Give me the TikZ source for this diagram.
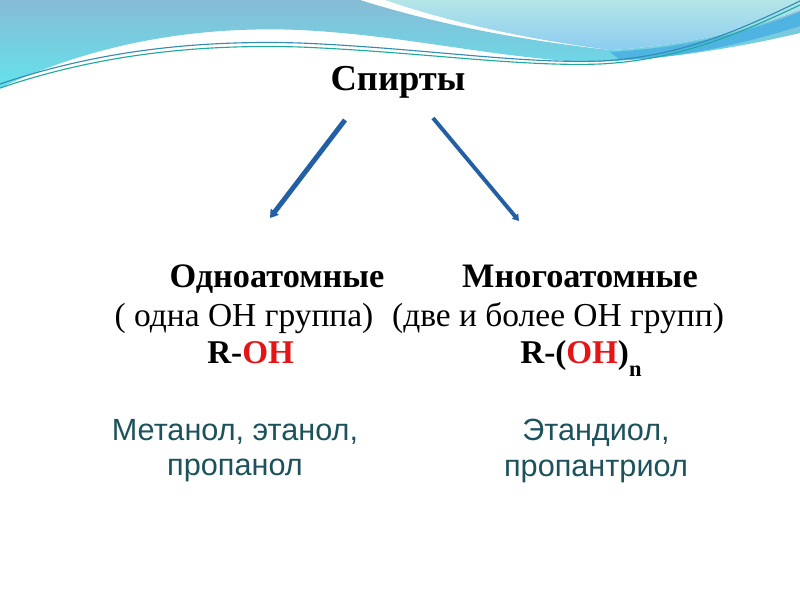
\documentclass[tikz,border=0pt]{standalone}
\usepackage{fontspec}
\setmainfont{Liberation Serif}
\newfontfamily\examplefont{Liberation Sans}
\usetikzlibrary{arrows.meta,positioning}
\definecolor{arrowblue}{RGB}{35,95,165}
\definecolor{ohred}{RGB}{230,20,20}
\definecolor{tealink}{RGB}{28,82,92}
\definecolor{skytop}{RGB}{135,188,214}
\definecolor{skybottom}{RGB}{100,226,236}
\definecolor{palertop}{RGB}{180,230,232}
\definecolor{palebottom}{RGB}{140,204,240}
\definecolor{deepband}{RGB}{80,180,226}
\definecolor{waveteal}{RGB}{30,170,160}
\definecolor{waveblue}{RGB}{50,140,180}
\tikzset{
  heading/.style={font=\fontsize{26}{30}\selectfont\bfseries},
  kind/.style={font=\fontsize{24.4}{28}\selectfont\bfseries,anchor=base},
  note/.style={font=\fontsize{23.8}{28}\selectfont,anchor=base},
  formula/.style={font=\fontsize{23.6}{28}\selectfont\bfseries,anchor=base west,inner sep=0pt},
  example/.style={font=\examplefont\fontsize{21.8}{25}\selectfont,text=tealink,align=center},
  branch/.style={draw=arrowblue,line width=#1,-{Triangle[length=1.6*#1,width=2*#1]}},
  wave/.style={line width=0.8pt,draw=#1},
}

\begin{document}
\begin{tikzpicture}[x=0.025cm,y=-0.025cm]
    \useasboundingbox (0,0) rectangle (800,600);
    % background waves
    \shade[top color=skytop,bottom color=skybottom] (0,0) -- (360,0) .. controls (440,25) and (520,40) .. (610,50)
      .. controls (700,45) and (760,25) .. (800,10) -- (800,33) .. controls (720,52) and (640,62) .. (580,62)
      .. controls (480,55) and (400,35) .. (300,30) .. controls (180,25) and (80,50) .. (0,88) -- cycle;
    \shade[top color=palertop,bottom color=palebottom] (385,0) -- (800,0) -- (800,10) .. controls (760,25) and (700,45) .. (610,50)
      .. controls (520,38) and (450,22) .. (385,0) -- cycle;
    \fill[deepband] (610,52) .. controls (700,47) and (760,27) .. (800,12) -- (800,26)
      .. controls (740,45) and (680,58) .. (620,60) -- cycle;
    \draw[wave=waveblue] (0,84) .. controls (100,50) and (200,40) .. (300,43) .. controls (420,48) and (520,64) .. (600,61)
      .. controls (680,57) and (740,30) .. (800,1);
    \draw[wave=waveteal] (0,88) .. controls (100,54) and (200,44) .. (300,47) .. controls (420,52) and (520,67) .. (600,64)
      .. controls (680,60) and (740,33) .. (800,5);

    \node[heading] (title) at (398,82) {Спирты};
    \coordinate (lstart) at (345,120);
    \coordinate (lend) at (270,218);
    \coordinate (rstart) at (433,118);
    \coordinate (rend) at (519,221);
    \draw[branch=3.5pt] (lstart) -- (lend);
    \draw[branch=2.8pt] (rstart) -- (rend);

    \node[kind] (mono) at (277,287) {Одноатомные};
    \node[note] (monodef) at (244,326) {( одна ОН группа)};
    \node[formula] (monoform) at (207,363) {R-\textcolor{ohred}{OH}};
    \node[kind] (poly) at (580,287) {Многоатомные};
    \node[note] (polydef) at (558,326) {(две и более ОН групп)};
    \node[formula] (polyform) at (520,363) {R-(\textcolor{ohred}{OH})\raisebox{-0.4em}{\fontsize{16}{16}\selectfont n}};

    \node[example] (monoex) at (235,451) {Метанол, этанол,\\пропанол};
    \node[example] (polyex) at (596,451) {Этандиол,\\пропантриол};
\end{tikzpicture}
\end{document}
